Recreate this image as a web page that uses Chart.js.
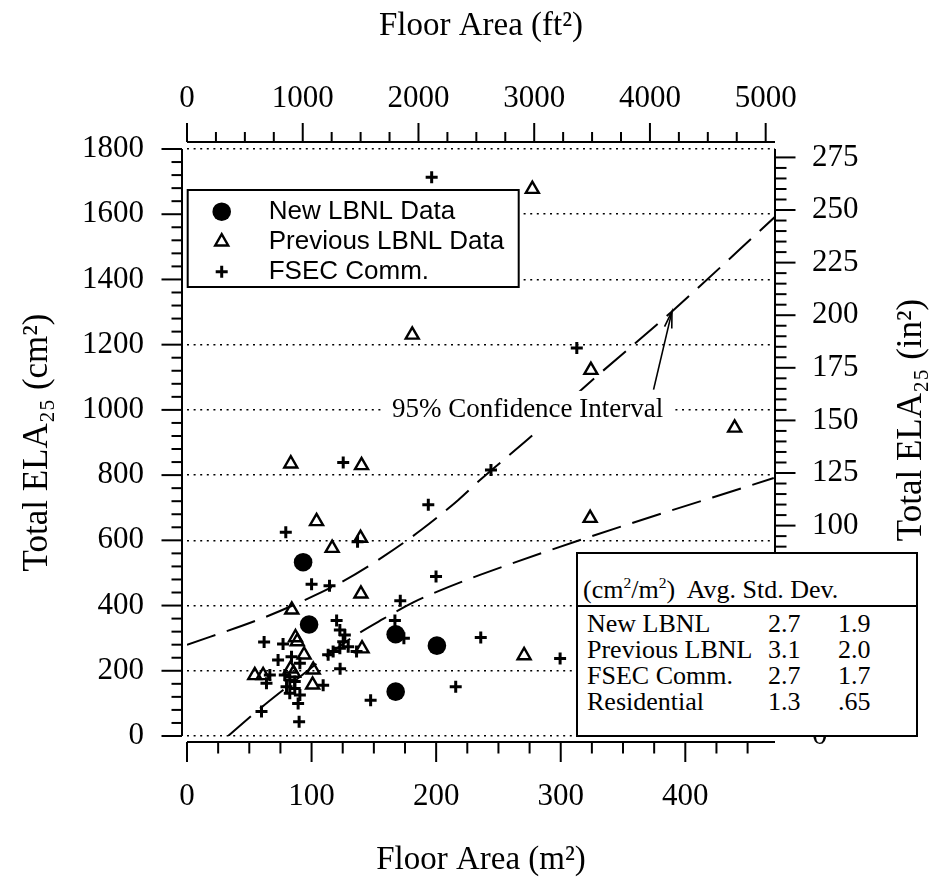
<!DOCTYPE html>
<html><head><meta charset="utf-8">
<script src="https://cdn.jsdelivr.net/npm/chart.js@4.4.1/dist/chart.umd.min.js"></script>
<style>
html,body{margin:0;padding:0;background:#fff;}
#wrap{position:relative;width:933px;height:880px;overflow:hidden;background:#fff;}
#c{position:absolute;left:0;top:0;}
#tbl{position:absolute;left:576px;top:552px;width:342px;height:185px;border:2px solid #000;background:#fff;box-sizing:border-box;font-family:'Liberation Serif','Times New Roman',serif;font-size:26px;color:#000;}
#tbl .t{position:absolute;white-space:nowrap;line-height:30px;}
#tbl .rule{position:absolute;left:0;right:0;height:0;border-top:2px solid #000;}
</style></head>
<body>
<div id="wrap"><canvas id="c" width="933" height="880"></canvas><div id="tbl"></div></div>
<script>
// ---------------- data (floor area m², ELA cm²) ----------------
const newLBNL = [[93.2,533],[98.0,342],[167.5,312],[200.6,277],[167.5,136]];
const prevLBNL = [[180.8,1230],[277.2,1677],[324.2,1122],[439.6,945],[323.6,668],[83.3,835],[140.1,830],
  [104.0,658],[139.3,607],[116.5,576],[139.6,436],[84.1,387],[87.1,302],[88.5,290],[94.0,249],[140.5,268],
  [101.3,203],[83.1,206],[85.5,193],[54.4,186],[61.1,186],[100.8,157],[270.6,247]];
const fsecComm = [[196.4,1713],[312.9,1190],[244.0,816],[125.4,839],[193.7,709],[79.3,625],[136.9,596],
  [100.0,465],[114.4,461],[199.9,489],[171.2,415],[166.9,354],[174.1,300],[235.8,302],[299.5,238],[215.7,151],
  [147.4,110],[61.9,288],[77.1,282],[120.1,354],[122.7,325],[126.7,310],[125.4,289],[122.7,269],[117.3,259],
  [113.3,249],[129.4,274],[136.1,259],[122.9,206],[73.1,233],[83.9,243],[90.6,223],[66.5,187],[63.8,162],
  [78.5,187],[82.5,172],[86.5,167],[79.9,151],[86.5,146],[82.5,131],[109.3,156],[90.6,126],[89.2,100],
  [59.8,75],[90.0,44]];
const ciUpper = [[0,280],[57,356],[90.6,410],[124,472],[157.5,550],[188.4,633],[217.8,724],[235.2,785],
  [279.4,929],[318.2,1067],[389.3,1302],[472,1592]];
const ciLower = [[33,0],[58.6,84],[89.2,177],[112,245],[133.4,304],[157.5,359],[181.6,410],[200.4,442],
  [235.2,494],[323.6,611],[471,791]];
const ciLabel = {text:'95% Confidence Interval', x:273.4, y:1000};
const ciArrow = {from:[374.5,1062], to:[389.3,1302]};

// tick labels
const bottomTicks = [0,100,200,300,400];               // m²
const topTicks = [0,1000,2000,3000,4000,5000];         // ft²
const leftTicks = [0,200,400,600,800,1000,1200,1400,1600,1800]; // cm²
const rightTicks = [0,25,50,75,100,125,150,175,200,225,250,275]; // in²

const legendLabels = ['New LBNL Data','Previous LBNL Data','FSEC Comm.'];
const tableHeader = '(cm<sup style="font-size:60%">2</sup>/m<sup style="font-size:60%">2</sup>)&nbsp; Avg. Std. Dev.';
const tableNames = ['New LBNL','Previous LBNL','FSEC Comm.','Residential'];
const tableAvg = ['2.7','3.1','2.7','1.3'];
const tableStd = ['1.9','2.0','1.7','.65'];

const titleBottom = 'Floor Area (m²)';
const titleTop = 'Floor Area (ft²)';
const titleLeft = 'Total ELA₂₅ (cm²)';
const titleRight = 'Total ELA₂₅ (in²)';

// axis ranges / minor tick steps
const xMax = 472, yMax = 1800;
const M2_PER_FT2 = 0.09290304, CM2_PER_IN2 = 6.4516;
const xMinor = 25, yMinor = 40, x2Minor = 250, y2Minor = 5;

// ---------------- rendering ----------------
const serif = "'Liberation Serif','Times New Roman',serif";
const sans = "'Liberation Sans',Arial,sans-serif";
const toXY = a => a.map(p => ({x:p[0], y:p[1]}));
const setTicks = arr => s => { s.ticks = arr.map(v => ({value:v})); };

function drawSym(ctx, ds, px, py){
  const o = {pointStyle: ds.pointStyle, radius: ds.pointRadius, rotation: 0, borderWidth: ds.pointBorderWidth};
  ctx.save();
  ctx.fillStyle = ds.pointBackgroundColor; ctx.strokeStyle = ds.pointBorderColor; ctx.lineWidth = ds.pointBorderWidth;
  if (Chart.helpers && Chart.helpers.drawPoint) { Chart.helpers.drawPoint(ctx, o, px, py); }
  else { ctx.beginPath(); ctx.arc(px, py, o.radius, 0, Math.PI*2); ctx.fill(); ctx.stroke(); }
  ctx.restore();
}

const framePlugin = {
  id:'frame',
  afterDraw(chart){
    const {ctx, chartArea:a, scales:{x,y,x2,y2}} = chart;
    ctx.save(); ctx.strokeStyle='#000'; ctx.lineWidth=2; ctx.lineCap='butt';
    const seg=(x1,y1,xx,yy)=>{ctx.beginPath();ctx.moveTo(x1,y1);ctx.lineTo(xx,yy);ctx.stroke();};
    const isMaj=(s,v)=>s.ticks.some(t=>Math.abs(t.value-v)<1e-6);
    const L=a.left-5;
    seg(L,a.top,L,a.bottom);
    for(let v=0; v<=y.max+1e-6; v+=yMinor){const p=y.getPixelForValue(v); seg(L-(isMaj(y,v)?20.5:10.5),p,L,p);}
    const B=a.bottom+6;
    seg(a.left,B,a.right,B);
    for(let v=0; v<=x.max+1e-6; v+=xMinor){const p=x.getPixelForValue(v); seg(p,B,p,B+(isMaj(x,v)?20:11.5));}
    const T=a.top-7;
    seg(a.left,T,a.right,T);
    for(let v=0; v<=x2.max+1e-6; v+=x2Minor){const p=x2.getPixelForValue(v); seg(p,T,p,T-(isMaj(x2,v)?19:10));}
    const R=a.right;
    seg(R,a.top,R,a.bottom);
    for(let v=0; v<=y2.max+1e-6; v+=y2Minor){const p=y2.getPixelForValue(v); seg(R,p,R+(isMaj(y2,v)?20.5:11.5),p);}
    // right title (reads bottom to top, like the left one), kept above the summary table
    ctx.translate(912,420); ctx.rotate(-Math.PI/2);
    ctx.fillStyle='#000'; ctx.font=`35px ${serif}`; ctx.textAlign='center'; ctx.textBaseline='middle';
    ctx.fillText(titleRight,0,0);
    ctx.restore();
  }
};

const annotPlugin = {
  id:'annot',
  afterDatasetsDraw(chart){
    const {ctx, scales:{x,y}} = chart;
    ctx.save();
    ctx.font=`27px ${serif}`;
    const cx=x.getPixelForValue(ciLabel.x), cy=y.getPixelForValue(ciLabel.y);
    const w=ctx.measureText(ciLabel.text).width;
    ctx.fillStyle='#fff'; ctx.fillRect(cx-w/2-10, cy-19, w+20, 38);
    ctx.fillStyle='#000'; ctx.textAlign='center'; ctx.textBaseline='middle';
    ctx.fillText(ciLabel.text,cx,cy);
    const fx=x.getPixelForValue(ciArrow.from[0]), fy=y.getPixelForValue(ciArrow.from[1]);
    const tx=x.getPixelForValue(ciArrow.to[0]), ty=y.getPixelForValue(ciArrow.to[1]);
    ctx.strokeStyle='#000'; ctx.lineWidth=1.6;
    ctx.beginPath(); ctx.moveTo(fx,fy); ctx.lineTo(tx,ty); ctx.stroke();
    const ang=Math.atan2(fy-ty,fx-tx), hl=17, ha=0.22;
    ctx.beginPath();
    ctx.moveTo(tx+hl*Math.cos(ang+ha), ty+hl*Math.sin(ang+ha)); ctx.lineTo(tx,ty);
    ctx.lineTo(tx+hl*Math.cos(ang-ha), ty+hl*Math.sin(ang-ha)); ctx.stroke();
    ctx.restore();
  },
  afterDraw(chart){
    const {ctx, chartArea:a} = chart;
    const bx=a.left+0.7, by=a.top+41, bw=331, bh=97;
    ctx.save();
    ctx.fillStyle='#fff'; ctx.fillRect(bx,by,bw,bh);
    ctx.strokeStyle='#000'; ctx.lineWidth=2; ctx.strokeRect(bx,by,bw,bh);
    ctx.font=`26px ${sans}`; ctx.textBaseline='middle'; ctx.textAlign='left';
    legendLabels.forEach((lab,i)=>{
      const ds=chart.data.datasets.find(d=>d.label===lab);
      const ry=by+21.7+i*30;
      drawSym(ctx, ds, bx+34, ry);
      ctx.fillStyle='#000'; ctx.fillText(lab, bx+81, ry);
    });
    ctx.restore();
  }
};

const tickFont = {family:serif, size:31};
const titleFont = {family:serif, size:33};

new Chart(document.getElementById('c'), {
  type:'scatter',
  data:{datasets:[
    {label:'FSEC Comm.', data:toXY(fsecComm), pointStyle:'cross', pointRadius:6, pointBorderWidth:3,
     pointBorderColor:'#000', pointBackgroundColor:'#000', borderColor:'#000', backgroundColor:'#000', order:1},
    {label:'Previous LBNL Data', data:toXY(prevLBNL), pointStyle:'triangle', pointRadius:7.5, pointBorderWidth:2.4,
     pointBorderColor:'#000', pointBackgroundColor:'rgba(255,255,255,0)', borderColor:'#000', backgroundColor:'rgba(255,255,255,0)', order:2},
    {label:'New LBNL Data', data:toXY(newLBNL), pointStyle:'circle', pointRadius:9.3, pointBorderWidth:0,
     pointBorderColor:'#000', pointBackgroundColor:'#000', borderColor:'#000', backgroundColor:'#000', order:3},
    {label:'95% CI upper', data:toXY(ciUpper), showLine:true, pointRadius:0, borderColor:'#000', borderWidth:2,
     borderDash:[30,12], cubicInterpolationMode:'monotone', fill:false, order:4},
    {label:'95% CI lower', data:toXY(ciLower), showLine:true, pointRadius:0, borderColor:'#000', borderWidth:2,
     borderDash:[30,12], cubicInterpolationMode:'monotone', fill:false, order:4}
  ]},
  options:{
    responsive:false, animation:false, events:[],
    layout:{padding:0},
    plugins:{legend:{display:false}, tooltip:{enabled:false}},
    scales:{
      x:{type:'linear', position:'bottom', min:0, max:xMax,
         afterFit:s=>{s.height=144;}, afterBuildTicks:setTicks(bottomTicks),
         grid:{display:false, drawTicks:false}, border:{display:false},
         ticks:{padding:42, font:tickFont, color:'#000', maxRotation:0, autoSkip:false, callback:v=>String(v)},
         title:{display:true, text:titleBottom, font:titleFont, color:'#000', padding:{top:0,bottom:0}}},
      x2:{type:'linear', position:'top', min:0, max:xMax/M2_PER_FT2,
         afterFit:s=>{s.height=149;}, afterBuildTicks:setTicks(topTicks),
         grid:{display:false, drawTicks:false}, border:{display:false},
         ticks:{padding:32, font:tickFont, color:'#000', maxRotation:0, autoSkip:false, callback:v=>String(v)},
         title:{display:true, text:titleTop, font:titleFont, color:'#000', padding:{top:7,bottom:0}}},
      y:{type:'linear', position:'left', min:0, max:yMax,
         afterFit:s=>{s.width=187;}, afterBuildTicks:setTicks(leftTicks),
         grid:{display:true, drawTicks:false, color:'#000', lineWidth:1.6}, border:{display:false, dash:[2,4.6]},
         ticks:{padding:43, font:tickFont, color:'#000', autoSkip:false, callback:v=>String(v)},
         title:{display:true, text:titleLeft, font:{family:serif, size:35}, color:'#000', padding:{top:17,bottom:0}}},
      y2:{type:'linear', position:'right', min:0, max:yMax/CM2_PER_IN2,
         afterFit:s=>{s.width=158;}, afterBuildTicks:setTicks(rightTicks),
         grid:{display:false, drawTicks:false}, border:{display:false},
         ticks:{padding:37, font:tickFont, color:'#000', autoSkip:false, callback:v=>String(v)}}
    }
  },
  plugins:[framePlugin, annotPlugin]
});

// ---------------- summary table ----------------
(function(){
  const t=document.getElementById('tbl');
  let h=`<div class="t" style="left:5px;top:14px">${tableHeader}</div><div class="rule" style="top:51px"></div>`;
  tableNames.forEach((n,i)=>{
    const top=(55+i*25.9).toFixed(1);
    h+=`<div class="t" style="left:9px;top:${top}px">${n}</div>`;
    h+=`<div class="t" style="left:190px;top:${top}px">${tableAvg[i]}</div>`;
    h+=`<div class="t" style="left:260px;top:${top}px">${tableStd[i]}</div>`;
  });
  t.innerHTML=h;
})();
</script>
</body></html>
